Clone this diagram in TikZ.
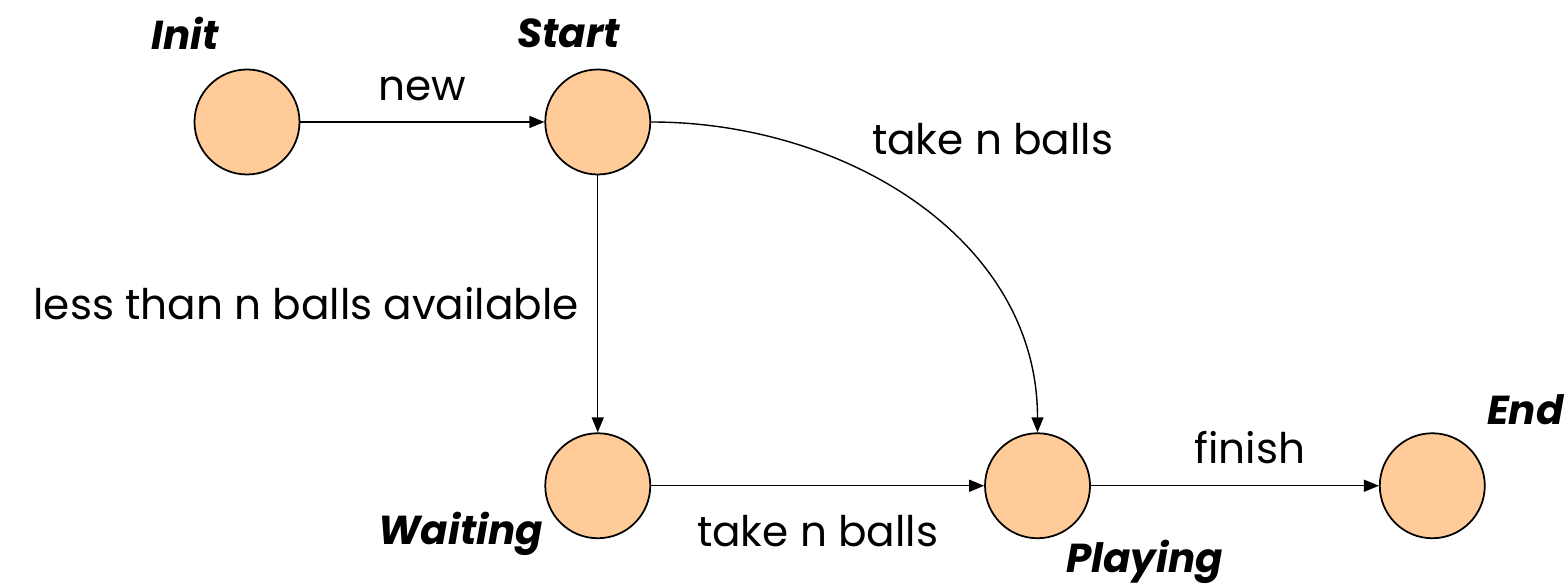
\documentclass[tikz,border=0pt]{standalone}
\usepackage{fontspec}
\setmainfont{Poppins}
\usepackage{tikz}
\usetikzlibrary{arrows.meta, positioning}

\definecolor{statefill}{RGB}{255,204,153}

\begin{document}
\begin{tikzpicture}[
            node distance=4.88cm,
            state/.style={
                    circle, draw=black, line width=1pt,
                    fill=statefill, minimum size=2.1cm, inner sep=0pt
                },
            statename/.style={font=\fontsize{23}{27}\selectfont\bfseries\itshape},
            trans/.style={font=\fontsize{24}{28}\selectfont},
            arrow/.style={-{Triangle[length=0.3cm, width=0.24cm]}, line width=0.8pt}
        ]
        \useasboundingbox (0,0) rectangle (31.3,11.76);

        \node[state] (init) at (4.94,9.32) {};
        \node[state, right=4.88cm of init] (start) {};
        \node[state, below=5.14cm of start] (waiting) {};
        \node[state, right=6.66cm of waiting] (playing) {};
        \node[state, right=5.76cm of playing] (end) {};

        \node[statename] at ([shift={(-1.24,1.78)}]init.center) {Init};
        \node[statename] at ([shift={(-0.58,1.78)}]start.center) {Start};
        \node[statename] at ([shift={(-2.74,-0.96)}]waiting.center) {Waiting};
        \node[statename] at ([shift={(2.14,-1.52)}]playing.center) {Playing};
        \node[statename] at ([shift={(1.86,1.52)}]end.center) {End};

        \draw[arrow] (init) -- node[trans, above=0.3cm] {new} (start);
        \draw[arrow] (start) -- node[trans, left=0.25cm] {less than n balls available} (waiting);
        \draw[arrow] (waiting) -- node[trans, below=0.45cm] {take n balls} (playing);
        \draw[arrow] (playing) -- node[trans, above=0.3cm, xshift=0.3cm] {finish} (end);
        \draw[arrow] (start.east) to[out=0, in=90]
            node[trans, pos=0.45, above right=0.55cm and -0.58cm] {take n balls} (playing.north);
    \end{tikzpicture}
\end{document}
